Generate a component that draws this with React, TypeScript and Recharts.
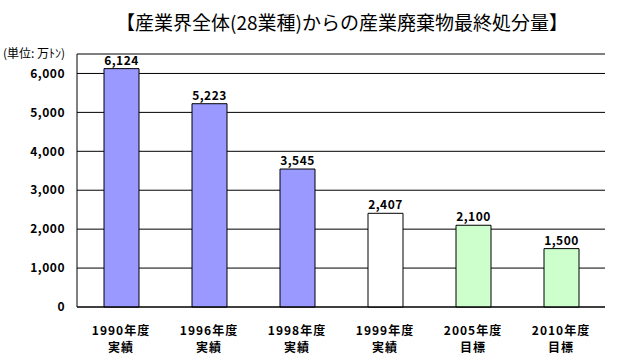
import { Bar, BarChart, CartesianGrid, Cell, LabelList, XAxis, YAxis } from "recharts";

const years = ["1990年度", "1996年度", "1998年度", "1999年度", "2005年度", "2010年度"];
const kinds = ["実績", "実績", "実績", "実績", "目標", "目標"];
const amounts = [6124, 5223, 3545, 2407, 2100, 1500];
const colors = ["#9999ff", "#9999ff", "#9999ff", "#ffffff", "#ccffcc", "#ccffcc"];
const yTicks = [0, 1000, 2000, 3000, 4000, 5000, 6000];

const FONT = "'Noto Sans CJK JP', sans-serif";

const data = years.map((y, i) => ({ name: y, kind: kinds[i], value: amounts[i] }));

function CategoryTick({ x, y, payload, index }: any) {
  return (
    <g>
      <text x={x} y={y + 20} textAnchor="middle" fontSize={12} fontWeight="bold" fill="#000" fontFamily={FONT} letterSpacing={1}>
        {payload.value}
      </text>
      <text x={x} y={y + 37} textAnchor="middle" fontSize={12} fontWeight="bold" fill="#000" fontFamily={FONT} letterSpacing={1}>
        {kinds[index]}
      </text>
    </g>
  );
}

export default function App() {
  return (
    <div style={{ position: "absolute", left: 0, top: 0, width: 620, height: 360, background: "#fff", fontFamily: FONT }}>
      <div
        style={{
          position: "absolute",
          left: 0,
          width: 684,
          top: 9,
          textAlign: "center",
          fontSize: 19,
          lineHeight: "26px",
          color: "#000",
        }}
      >
        【産業界全体(28業種)からの産業廃棄物最終処分量】
      </div>
      <div style={{ position: "absolute", left: 3, top: 45, fontSize: 12, lineHeight: "15px", color: "#000" }}>
        (単位: 万ﾄﾝ)
      </div>
      <BarChart
        width={620}
        height={360}
        data={data}
        margin={{ top: 54, right: 15, left: 0, bottom: 0 }}
        barSize={35}
      >
        <CartesianGrid horizontal vertical={false} stroke="#000" strokeWidth={1} />
        <XAxis
          xAxisId="cat"
          dataKey="name"
          height={53}
          axisLine={{ stroke: "#000" }}
          tickLine={false}
          tick={<CategoryTick />}
          interval={0}
        />
        <XAxis
          xAxisId="marks"
          type="number"
          domain={[0, 6]}
          ticks={[1, 2, 3, 4, 5]}
          height={0}
          axisLine={false}
          tickSize={-4}
          tickLine={{ stroke: "#000" }}
          tick={() => <g />}
        />
        <XAxis xAxisId="top" orientation="top" dataKey="name" height={0} tick={false} tickLine={false} axisLine={{ stroke: "#000" }} />
        <YAxis
          domain={[0, 6500]}
          ticks={yTicks}
          width={77}
          axisLine={{ stroke: "#000" }}
          tickLine={false}
          tickSize={0}
          tickMargin={12}
          tickFormatter={(v: number) => v.toLocaleString("en-US")}
          tick={{ fontSize: 12, fontWeight: "bold", fill: "#000", fontFamily: FONT, letterSpacing: 0.5 }}
        />
        <YAxis yAxisId="right" orientation="right" width={0} tick={false} tickLine={false} axisLine={{ stroke: "#000" }} />
        <Bar dataKey="value" xAxisId="cat" stroke="#000" strokeWidth={1} isAnimationActive={false}>
          {data.map((d, i) => (
            <Cell key={d.name} fill={colors[i]} />
          ))}
          <LabelList
            dataKey="value"
            position="top"
            offset={4}
            formatter={(v: any) => Number(v).toLocaleString("en-US")}
            style={{ fontSize: 12, fontWeight: "bold", fill: "#000", fontFamily: FONT, letterSpacing: 0.5 }}
          />
        </Bar>
      </BarChart>
    </div>
  );
}
